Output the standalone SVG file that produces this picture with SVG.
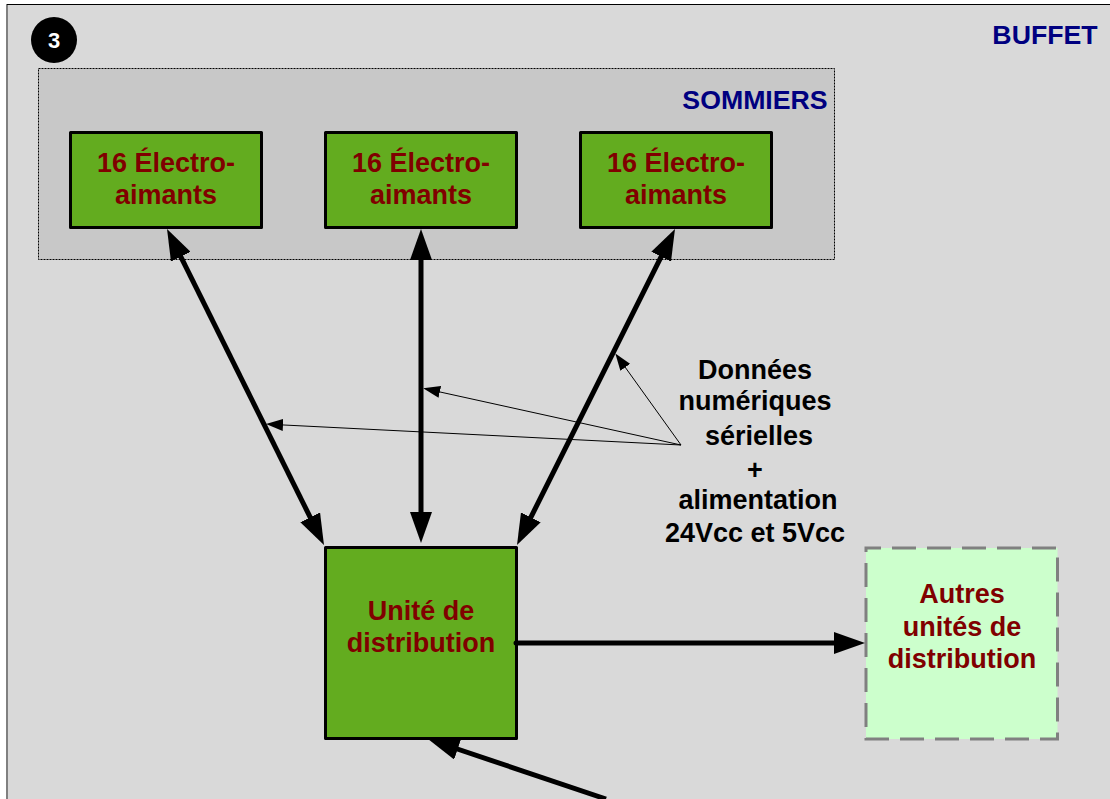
<svg xmlns="http://www.w3.org/2000/svg" width="1110" height="799" viewBox="0 0 1110 799">
<style>
text{font-family:"Liberation Sans",Arial,sans-serif;font-weight:bold;text-anchor:middle}
.lbl{font-size:27px;fill:#800000}
.blk{font-size:27px;fill:#000}
.navy{font-size:26.700px;fill:#000080}
.box{fill:#63ac1f;stroke:#000;stroke-width:3;stroke-linejoin:round}
.thick{stroke:#000;stroke-width:5;fill:none}
.thin{stroke:#000;stroke-width:1;fill:none}
</style>
<defs>
<marker id="big" markerUnits="userSpaceOnUse" markerWidth="32" markerHeight="22" refX="16" refY="11" orient="auto-start-reverse"><path d="M0 0L31 11L0 22z" fill="#000"/></marker>
<marker id="small" markerUnits="userSpaceOnUse" markerWidth="18" markerHeight="12" refX="9" refY="6" orient="auto"><path d="M0 0L17 6L0 12z" fill="#000"/></marker>
<clipPath id="belowbox"><rect x="400" y="740" width="300" height="70"/></clipPath>
</defs>
<rect x="0" y="0" width="1110" height="799" fill="#fff"/>
<rect id="buffet" x="7" y="4.500" width="1110" height="800" fill="#d9d9d9" stroke="#000" stroke-width="1"/>
<path d="M7 5V799" stroke="#808080" stroke-width="2" fill="none"/>
<g id="badge"><circle cx="54" cy="40" r="23" fill="#000"/><text x="54" y="47.500" style="font-size:22px" fill="#fff">3</text></g>
<text id="buffet-label" class="navy" x="1045" y="44">BUFFET</text>
<g id="sommiers"><rect x="38.500" y="68.500" width="796" height="191" fill="#c8c8c8" stroke="#000" stroke-width="1" stroke-dasharray="2 1"/><text class="navy" x="755" y="109">SOMMIERS</text></g>
<g id="electro1"><rect class="box" x="70.500" y="132.500" width="191" height="95"/><text class="lbl" x="166" y="172">16 Électro-</text><text class="lbl" x="166" y="204">aimants</text></g>
<g id="electro2"><rect class="box" x="325.500" y="132.500" width="191" height="95"/><text class="lbl" x="421" y="172">16 Électro-</text><text class="lbl" x="421" y="204">aimants</text></g>
<g id="electro3"><rect class="box" x="580.500" y="132.500" width="191" height="95"/><text class="lbl" x="676" y="172">16 Électro-</text><text class="lbl" x="676" y="204">aimants</text></g>
<g id="unite"><rect class="box" x="325.500" y="547.500" width="191" height="191"/><text class="lbl" x="421" y="620">Unité de</text><text class="lbl" x="421" y="652">distribution</text></g>
<g id="autres"><rect x="866" y="548" width="191.500" height="191" fill="#ccffcc" stroke="#808080" stroke-width="3" stroke-dasharray="24 11" stroke-dashoffset="9"/><text class="lbl" x="962" y="603">Autres</text><text class="lbl" x="962" y="636">unités de</text><text class="lbl" x="962" y="668">distribution</text></g>
<g id="connectors">
<path class="thick" d="M173.700 242.400L317.300 531.600" marker-start="url(#big)" marker-end="url(#big)"/>
<path class="thick" d="M421 244V528" marker-start="url(#big)" marker-end="url(#big)"/>
<path class="thick" d="M668.300 242.400L523.700 531.600" marker-start="url(#big)" marker-end="url(#big)"/>
<path class="thick" d="M516 643H850" stroke-linecap="round" marker-end="url(#big)"/>
<path class="thick" d="M606 799L442.500 744" clip-path="url(#belowbox)" marker-end="url(#big)"/>
<path class="thin" d="M681 445L620 360" marker-end="url(#small)"/>
<path class="thin" d="M681 445L431 390" marker-end="url(#small)"/>
<path class="thin" d="M681 445L274 424.500" marker-end="url(#small)"/>
</g>
<g id="note">
<text class="blk" x="755" y="379">Données</text>
<text class="blk" x="755" y="410">numériques</text>
<text class="blk" x="759" y="445">sérielles</text>
<text class="blk" x="755" y="479">+</text>
<text class="blk" x="758" y="509">alimentation</text>
<text class="blk" x="755" y="542">24Vcc et 5Vcc</text>
</g>
</svg>
